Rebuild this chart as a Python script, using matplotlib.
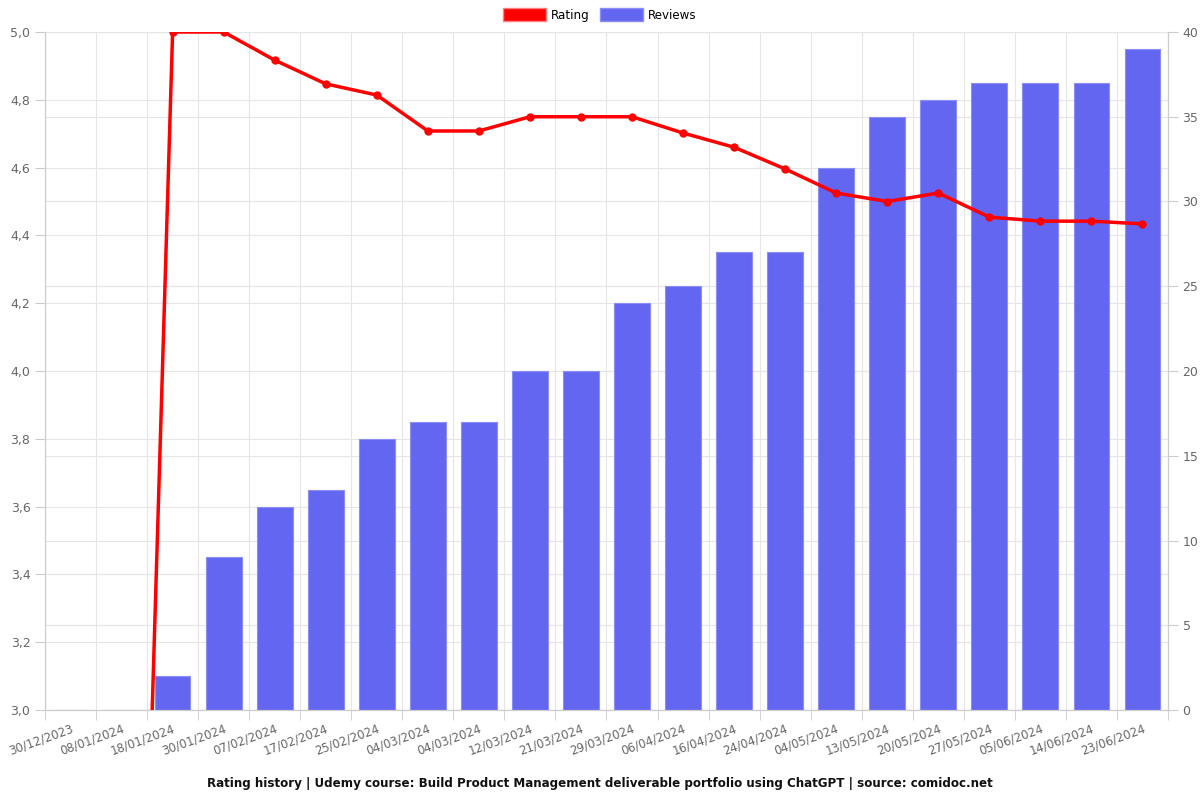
import matplotlib.pyplot as plt
import numpy as np
from matplotlib.patches import Patch

dates = ['30/12/2023', '08/01/2024', '18/01/2024', '30/01/2024', '07/02/2024',
         '17/02/2024', '25/02/2024', '04/03/2024', '04/03/2024', '12/03/2024',
         '21/03/2024', '29/03/2024', '06/04/2024', '16/04/2024', '24/04/2024',
         '04/05/2024', '13/05/2024', '20/05/2024', '27/05/2024', '05/06/2024',
         '14/06/2024', '23/06/2024']
reviews = [0, 0, 2, 9, 12, 13, 16, 17, 17, 20, 20, 24, 25, 27, 27, 32, 35, 36, 37, 37, 37, 39]
rating = [0, 0, 5.0, 5.0, 4.917, 4.847, 4.814, 4.708, 4.708, 4.75, 4.75, 4.75,
          4.702, 4.66, 4.596, 4.525, 4.50, 4.525, 4.454, 4.442, 4.442, 4.434]

grid_c = '#e6e6e6'
spine_c = '#cccccc'
text_c = '#666666'

fig = plt.figure(figsize=(12, 8), dpi=100)
ax = fig.add_axes([0.0375, 0.1125, 0.9358, 0.8475])
ax2 = ax.twinx()

x = np.arange(len(dates))
rticks = np.arange(3.0, 5.01, 0.2)

# grid goes on the bar axes so it stays behind the bars
for v in rticks:
    ax2.axhline((v - 3.0) / 2.0 * 40, color=grid_c, linewidth=0.8, zorder=0)
for v in np.arange(0, 41, 5):
    ax2.axhline(v, color=grid_c, linewidth=0.8, zorder=0)
for b in np.arange(-0.5, len(dates), 1):
    ax2.axvline(b, color=grid_c, linewidth=0.8, zorder=0)

ax2.bar(x, reviews, width=0.7, color='#6366f1', edgecolor='#8b8ef5', linewidth=0.8, zorder=2)
ax2.set_ylim(0, 40)
ax2.set_yticks(np.arange(0, 41, 5))

ax.set_zorder(ax2.get_zorder() + 1)
ax.patch.set_visible(False)
ax.plot(x, rating, color='red', linewidth=2.5, marker='o', markersize=5, zorder=5)
ax.set_ylim(3.0, 5.0)
ax.set_yticks(rticks)
ax.set_yticklabels([f'{v:.1f}'.replace('.', ',') for v in rticks])
ax.set_xlim(-0.5, len(dates) - 0.5)

ax.set_xticks(x)
ax.set_xticklabels(dates, rotation=20, ha='right', rotation_mode='anchor')
ax.set_xticks(np.arange(-0.5, len(dates), 1), minor=True)
ax.tick_params(axis='x', which='major', length=0, pad=9, labelsize=8.5, labelcolor=text_c)
ax.tick_params(axis='x', which='minor', length=7, color=spine_c)
ax.tick_params(axis='y', length=7, color=spine_c, labelsize=9, labelcolor=text_c)
ax2.tick_params(axis='y', length=7, color=spine_c, labelsize=9, labelcolor=text_c)

for a in (ax, ax2):
    for s in a.spines.values():
        s.set_color(spine_c)
    a.spines['top'].set_visible(False)

handles = [Patch(facecolor='red', edgecolor='#ff8080'),
           Patch(facecolor='#6366f1', edgecolor='#8b8ef5')]
fig.legend(handles, ['Rating', 'Reviews'], loc='upper center', bbox_to_anchor=(0.5, 1.003),
           ncol=2, frameon=False, fontsize=8.6, handlelength=3.6, handleheight=1.2,
           columnspacing=0.9, handletextpad=0.4)

fig.text(0.5, 0.021, 'Rating history | Udemy course: Build Product Management deliverable portfolio using ChatGPT | source: comidoc.net',
         ha='center', va='center', fontsize=8.6, fontweight='bold', color='#111111')

fig.savefig('out.png', dpi=100)
